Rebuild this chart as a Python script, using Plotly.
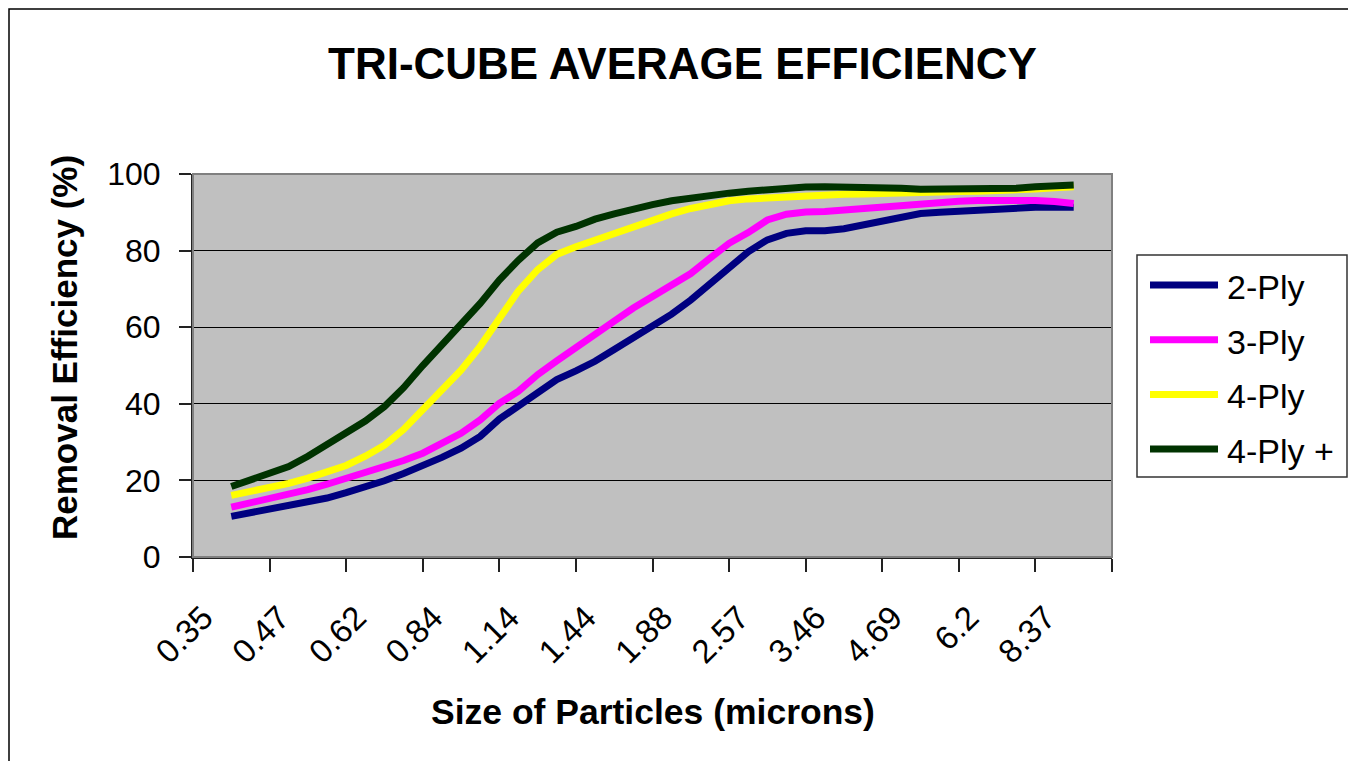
import plotly.graph_objects as go

# ---- data ----
size_labels = ["0.35", "0.47", "0.62", "0.84", "1.14", "1.44", "1.88",
               "2.57", "3.46", "4.69", "6.2", "8.37"]
label_every = 4  # one size label every 4 measured channels

series_names = ["2-Ply", "3-Ply", "4-Ply", "4-Ply +"]
series_colors = ["#000080", "#FF00FF", "#FFFF00", "#003300"]

ply2 = [10.6, 11.5, 12.3, 13.2, 14.2, 15.4, 16.8, 18.3, 19.9, 21.8,
        23.8, 26.0, 28.4, 31.5, 36.0, 39.6, 43.1, 46.3, 48.6, 51.1,
        54.2, 57.1, 60.1, 63.4, 67.1, 71.4, 75.6, 79.7, 82.8, 84.5,
        85.2, 85.2, 85.7, 86.7, 88.0, 88.9, 89.7, 90.0, 90.3, 90.6,
        91.0, 91.2, 91.3, 91.3, 91.3]
ply3 = [13.0, 14.1, 15.2, 16.4, 17.6, 19.0, 20.5, 22.0, 23.5, 25.2,
        27.1, 29.5, 32.3, 35.8, 40.1, 43.3, 47.6, 51.2, 54.8, 58.4,
        61.6, 65.0, 68.1, 70.9, 74.0, 78.0, 81.9, 84.7, 88.0, 89.5,
        90.1, 90.2, 90.6, 91.0, 91.4, 91.9, 92.4, 92.7, 92.9, 93.1,
        93.2, 93.2, 93.1, 92.8, 92.3]
ply4 = [16.1, 17.0, 17.9, 19.2, 20.6, 22.2, 23.9, 26.3, 29.2, 33.3,
        38.6, 43.6, 48.8, 55.0, 62.5, 69.5, 75.0, 79.0, 81.0, 82.8,
        84.5, 86.3, 88.0, 89.6, 91.0, 92.2, 93.0, 93.5, 93.8, 94.0,
        94.2, 94.5, 94.7, 94.8, 95.0, 95.0, 95.0, 95.2, 95.4, 95.5,
        95.6, 95.8, 96.1, 96.4, 96.7]
ply4plus = [18.4, 20.1, 21.8, 23.6, 26.3, 29.4, 32.5, 35.5, 39.3, 44.2,
            50.0, 55.3, 60.5, 66.2, 72.3, 77.5, 82.0, 84.8, 86.3, 88.2,
            89.6, 90.9, 92.0, 93.0, 93.8, 94.4, 95.0, 95.5, 96.0, 96.3,
            96.6, 96.7, 96.7, 96.7, 96.7, 96.3, 96.0, 96.0, 96.0, 96.0,
            96.0, 96.3, 96.7, 96.9, 97.1]
series_values = [ply2, ply3, ply4, ply4plus]

y_ticks = [0, 20, 40, 60, 80, 100]

# ---- figure geometry (page pixels; the page body adds an 8px margin) ----
OFF = 8
W, H = 1348, 753
L, T = 193 - OFF, 174 - OFF
PW, PH = 919, 383
R, B = W - L - PW, H - T - PH


def px(x):
    return (x - OFF - L) / PW


def py(y):
    return (T + PH - (y - OFF)) / PH


n = len(ply2)
xs = list(range(n))
half = label_every // 2

fig = go.Figure()
for name, color, vals in zip(series_names, series_colors, series_values):
    fig.add_trace(go.Scatter(x=xs, y=vals, mode="lines", name=name,
                             line=dict(color=color, width=7),
                             showlegend=False, hoverinfo="x+y+name"))

font = "Liberation Sans, Arial, sans-serif"

fig.update_layout(
    width=W, height=H,
    margin=dict(l=L, r=R, t=T, b=B, pad=0),
    paper_bgcolor="white",
    plot_bgcolor="#C0C0C0",
    font=dict(family=font, color="black"),
    xaxis=dict(
        range=[-half, n - 1 + half],
        tickmode="array",
        tickvals=[i * label_every for i in range(len(size_labels))],
        ticktext=size_labels,
        tickangle=-45,
        ticks="",
        showgrid=False, zeroline=False,
        showline=True, linecolor="#222", linewidth=2,
        tickfont=dict(size=33, family=font),
        ticklabelstandoff=26,
        ticklabelshift=-28,
        minor=dict(tickmode="array",
                   tickvals=[-half + i * label_every for i in range(len(size_labels) + 1)],
                   ticks="outside", ticklen=13, tickcolor="#222", tickwidth=1.5,
                   showgrid=False),
        fixedrange=True,
    ),
    yaxis=dict(
        range=[0, 100],
        tickvals=y_ticks,
        ticks="outside", ticklen=12, tickcolor="#222", tickwidth=1.5,
        showgrid=True, gridcolor="black", gridwidth=1,
        zeroline=False,
        showline=True, linecolor="#222", linewidth=2,
        tickfont=dict(size=32, family=font),
        ticklabelstandoff=12,
        fixedrange=True,
    ),
)

shapes = []
# plot-area border (grey top/right)
shapes.append(dict(type="rect", xref="paper", yref="paper", x0=0, x1=1, y0=0, y1=1,
                   line=dict(color="#808080", width=2), layer="above"))
# outer chart border
shapes.append(dict(type="rect", xref="paper", yref="paper",
                   x0=px(9), x1=px(1354), y0=py(800), y1=py(9),
                   line=dict(color="black", width=1.5)))
# legend box
shapes.append(dict(type="rect", xref="paper", yref="paper",
                   x0=px(1137), x1=px(1347), y0=py(477), y1=py(255),
                   line=dict(color="#333", width=1.5), fillcolor="white"))

annotations = []
for i, (name, color) in enumerate(zip(series_names, series_colors)):
    yy = 285 + i * 54.7
    shapes.append(dict(type="line", xref="paper", yref="paper",
                       x0=px(1150), x1=px(1218), y0=py(yy), y1=py(yy),
                       line=dict(color=color, width=7)))
    annotations.append(dict(xref="paper", yref="paper", x=px(1225), y=py(yy),
                            text=name, showarrow=False, xanchor="left", yanchor="middle",
                            yshift=-2, font=dict(size=34, family=font, color="black")))

annotations.append(dict(xref="paper", yref="paper", x=px(682), y=py(64),
                        text="<b>TRI-CUBE AVERAGE EFFICIENCY</b>", showarrow=False,
                        xanchor="center", yanchor="middle",
                        font=dict(size=44, color="black", family=font)))
annotations.append(dict(xref="paper", yref="paper", x=px(653), y=py(712),
                        text="<b>Size of Particles (microns)</b>", showarrow=False,
                        xanchor="center", yanchor="middle",
                        font=dict(size=35.5, family=font, color="black")))
annotations.append(dict(xref="paper", yref="paper", x=px(64), y=py(348),
                        text="<b>Removal Efficiency (%)</b>", showarrow=False,
                        textangle=-90, xanchor="center", yanchor="middle",
                        font=dict(size=35, family=font, color="black")))

fig.update_layout(shapes=shapes, annotations=annotations)

fig.write_html("out.html")
